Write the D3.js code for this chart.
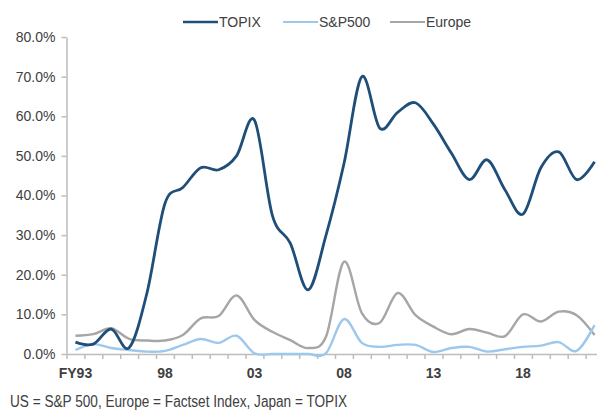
<!DOCTYPE html>
<html>
<head>
<meta charset="utf-8">
<script src="https://cdn.jsdelivr.net/npm/d3@7"></script>
<style>
  body { margin: 0; background: #fff; }
  svg { display: block; }
  text { font-family: "Liberation Sans", Arial, sans-serif; fill: #404040; }
</style>
</head>
<body>
<div id="chart"></div>
<script>
// categories FY93 .. FY22
var years = ["FY93","94","95","96","97","98","99","00","01","02","03","04","05","06","07",
             "08","09","10","11","12","13","14","15","16","17","18","19","20","21","22"];
var tickLabels = ["FY93","98","03","08","13","18"];

// series values (%)
var topix = [3.0,2.5,6.3,1.6,15.5,38,42,47,46.5,50,59,35,28,16.2,30,
             48,70,57,61,63.4,58,50.7,44,49,41.4,35.3,47,51,44,48.5];
var sp500 = [1.0,2.5,1.5,1.0,0.6,0.8,2.3,3.8,2.8,4.6,0.2,0,0,0,0.2,
             8.8,2.8,1.8,2.3,2.3,0.5,1.5,1.8,0.6,1.2,1.8,2.1,3.0,0.8,7.3];
var europe = [4.6,5.0,6.5,3.8,3.4,3.4,4.8,9.0,9.6,14.8,8.6,5.6,3.5,1.5,4.4,
              23.3,10.3,7.9,15.4,9.8,6.9,5.0,6.3,5.4,4.5,10.0,8.2,10.7,9.8,4.8];

var seriesNames = ["TOPIX","S&P500","Europe"];
var seriesColors = ["#1f4e79","#9dc8ee","#a6a6a6"];

var svgWidth = 597;
var svgHeight = 419;

var svg = d3.select("#chart")
  .append("svg")
  .attr("width", svgWidth)
  .attr("height", svgHeight);

var plotLeft = 66.5, plotRight = 603.5, plotTop = 37, plotBottom = 354;

// scales
var x = d3.scaleBand()
  .domain(years)
  .range([plotLeft, plotRight])
  .padding(0);

var xEdge = d3.scaleLinear()
  .domain([0, years.length])
  .range([plotLeft, plotRight]);

var y = d3.scaleLinear()
  .domain([0, 0.8])
  .range([plotBottom, plotTop]);

// y axis
var yAxis = svg.append("g")
  .attr("transform", `translate(${plotLeft},0)`)
  .call(d3.axisLeft(y)
    .tickValues(d3.range(0, 0.81, 0.1))
    .tickFormat(d3.format(".1%"))
    .tickSize(5)
    .tickSizeOuter(0)
    .tickPadding(6));
yAxis.select(".domain").attr("stroke", "#bdbdbd").attr("stroke-width", 1.5);
yAxis.selectAll(".tick line").attr("stroke", "#bdbdbd").attr("stroke-width", 1.5);
yAxis.selectAll(".tick text")
  .attr("font-size", "14px")
  .attr("font-family", "Liberation Sans, Arial, sans-serif")
  .attr("fill", "#404040");

// x axis (ticks at category boundaries)
var xAxis = svg.append("g")
  .attr("transform", `translate(0,${plotBottom})`)
  .call(d3.axisBottom(xEdge)
    .tickValues(d3.range(0, years.length + 1))
    .tickFormat("")
    .tickSize(5)
    .tickSizeOuter(0));
xAxis.select(".domain").attr("stroke", "#bdbdbd").attr("stroke-width", 1.5);
xAxis.selectAll(".tick line").attr("stroke", "#bdbdbd").attr("stroke-width", 1.5);

// x labels every 5 years
svg.append("g").selectAll("text")
  .data(tickLabels)
  .enter()
  .append("text")
  .attr("x", d => x(d) + x.bandwidth() / 2)
  .attr("y", 378)
  .attr("text-anchor", "middle")
  .attr("font-size", "14px")
  .attr("font-weight", "bold")
  .attr("fill", "#505050")
  .text(d => d);

// lines
var allSeries = [topix, sp500, europe];
var line = d3.line()
  .x((d, i) => x(years[i]) + x.bandwidth() / 2)
  .y(d => y(d / 100))
  .curve(d3.curveCatmullRom.alpha(0));

var drawOrder = [2, 1, 0];
drawOrder.forEach(function(k) {
  svg.append("path")
    .datum(allSeries[k])
    .attr("fill", "none")
    .attr("stroke", seriesColors[k])
    .attr("stroke-width", k === 0 ? 2.8 : 2.4)
    .attr("stroke-linejoin", "round")
    .attr("d", line);
});

// legend
var legendX = [183, 283, 390];
var legend = svg.append("g");
seriesNames.forEach(function(name, i) {
  legend.append("line")
    .attr("x1", legendX[i])
    .attr("x2", legendX[i] + 35)
    .attr("y1", 22)
    .attr("y2", 22)
    .attr("stroke", seriesColors[i])
    .attr("stroke-width", i === 0 ? 2.5 : 1.8);
  legend.append("text")
    .attr("x", legendX[i] + 36)
    .attr("y", 27)
    .attr("font-size", "14px")
    .attr("fill", "#262626")
    .text(name);
});

// footnote
svg.append("text")
  .attr("x", 10)
  .attr("y", 407)
  .attr("font-size", "16px")
  .attr("font-family", "Liberation Sans Narrow, Arial Narrow, sans-serif")
  .attr("fill", "#333")
  .attr("textLength", 337)
  .attr("lengthAdjust", "spacingAndGlyphs")
  .text("US = S&P 500, Europe = Factset Index, Japan = TOPIX");
</script>
</body>
</html>
